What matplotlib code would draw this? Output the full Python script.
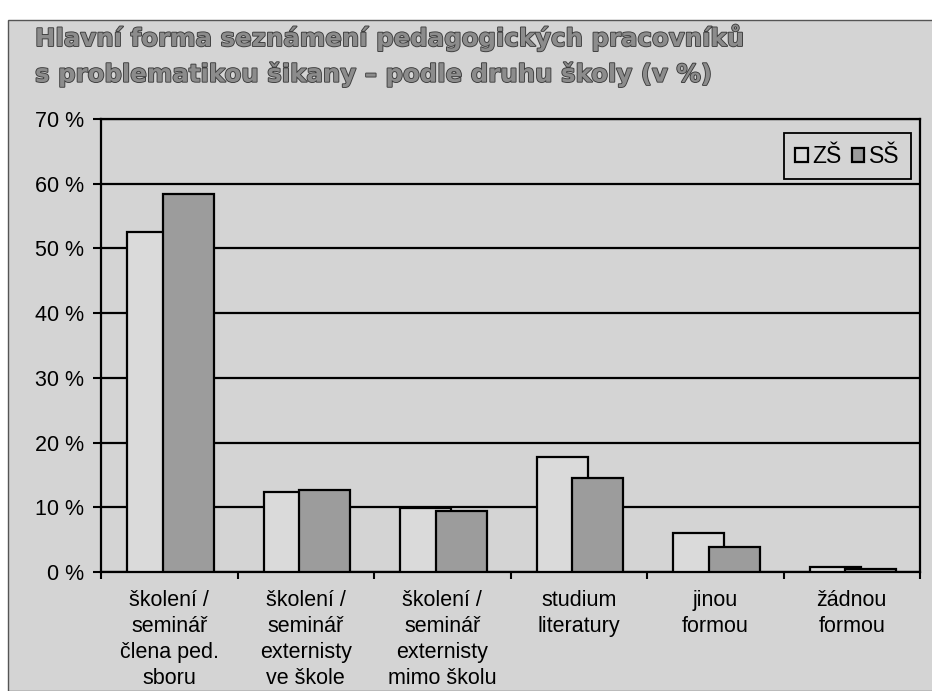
import numpy as np
import matplotlib
matplotlib.use("Agg")
import matplotlib.pyplot as plt
import matplotlib.patheffects as pe
from matplotlib.patches import Rectangle

categories = [
    "školení /\nseminář\nčlena ped.\nsboru",
    "školení /\nseminář\nexternisty\nve škole",
    "školení /\nseminář\nexternisty\nmimo školu",
    "studium\nliteratury",
    "jinou\nformou",
    "žádnou\nformou",
]
zs = [52.5, 12.4, 9.9, 17.8, 6.0, 0.8]
ss = [58.4, 12.7, 9.4, 14.5, 3.9, 0.5]
yticks = [0, 10, 20, 30, 40, 50, 60, 70]

bg = "#d4d4d4"
plt.rcParams["font.family"] = ["Liberation Sans", "DejaVu Sans"]

fig = plt.figure(figsize=(9.32, 6.91), dpi=100, facecolor="white")
# scanned page area
fig.patches.append(Rectangle((8 / 932, 0), 1, 1 - 20 / 691, transform=fig.transFigure,
                             facecolor=bg, edgecolor="#555555", linewidth=1.0, zorder=-10))

ax = fig.add_axes([101 / 932, 1 - 572 / 691, (920 - 101) / 932, (572 - 119) / 691])
ax.set_facecolor(bg)

x = np.arange(len(categories))
w = 0.375
ax.bar(x - 0.12, zs, w, color="#dadada", edgecolor="black", linewidth=1.6, zorder=3, label="ZŠ")
ax.bar(x + 0.14, ss, w, color="#9c9c9c", edgecolor="black", linewidth=1.6, zorder=4, label="SŠ")

ax.set_xlim(-0.5, len(categories) - 0.5)
ax.set_ylim(0, 70)
ax.set_yticks(yticks)
ax.set_yticklabels([f"{v} %" for v in yticks], fontsize=15.5)
ax.yaxis.grid(True, color="black", linewidth=1.6, zorder=1)
ax.set_axisbelow(True)

ax.set_xticks(x)
ax.set_xticklabels(categories, fontsize=15.5, linespacing=1.32)
ax.tick_params(axis="x", length=0, pad=13)
ax.set_xticks(np.arange(len(categories) + 1) - 0.5, minor=True)
ax.tick_params(axis="x", which="minor", length=5, width=1.5, direction="out")
ax.tick_params(axis="y", length=6, width=1.5, direction="out", pad=6)

for s in ax.spines.values():
    s.set_color("black")
    s.set_linewidth(1.6)

leg = ax.legend(loc="upper right", bbox_to_anchor=(0.989, 0.968), borderaxespad=0,
                ncol=2, fontsize=16.5,
                handlelength=0.55, handleheight=0.55, handletextpad=0.2,
                columnspacing=0.45, borderpad=0.5, fancybox=False, framealpha=1)
leg.get_frame().set_edgecolor("black")
leg.get_frame().set_facecolor(bg)
leg.get_frame().set_linewidth(1.3)

title = "Hlavní forma seznámení pedagogických pracovníků\ns problematikou šikany – podle druhu školy (v %)"
fig.text(35 / 932, 1 - 24 / 691, title, fontsize=17.6, fontweight="bold", color="#8c8c8c",
         va="top", ha="left", linespacing=1.5,
         family=["DejaVu Sans"],
         path_effects=[pe.withStroke(linewidth=1.3, foreground="#3c3c3c")])

fig.savefig("out.png", dpi=100, facecolor=fig.get_facecolor())
